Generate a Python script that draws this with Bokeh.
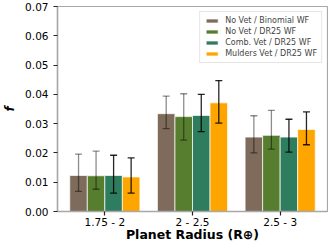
from bokeh.plotting import figure
from bokeh.models import (ColumnDataSource, Range1d, FixedTicker, PrintfTickFormatter,
                          Whisker, TeeHead, Legend, LegendItem)
from bokeh.embed import file_html
from bokeh.resources import INLINE

# ---- data ----
categories = ["1.75 - 2", "2 - 2.5", "2.5 - 3"]
series_names = ["No Vet / Binomial WF", "No Vet / DR25 WF",
                "Comb. Vet / DR25 WF", "Mulders Vet / DR25 WF"]
no_vet_binomial = [0.0123, 0.0334, 0.0254]
no_vet_binomial_lo = [0.0069, 0.0283, 0.0200]
no_vet_binomial_hi = [0.0196, 0.0394, 0.0327]
no_vet_dr25 = [0.0122, 0.0324, 0.0260]
no_vet_dr25_lo = [0.0076, 0.0244, 0.0213]
no_vet_dr25_hi = [0.0206, 0.0402, 0.0345]
comb_vet_dr25 = [0.0123, 0.0328, 0.0254]
comb_vet_dr25_lo = [0.0063, 0.0273, 0.0203]
comb_vet_dr25_hi = [0.0192, 0.0400, 0.0315]
mulders_vet_dr25 = [0.0118, 0.0371, 0.0280]
mulders_vet_dr25_lo = [0.0063, 0.0302, 0.0228]
mulders_vet_dr25_hi = [0.0183, 0.0447, 0.0340]
y_ticks = [0.0, 0.01, 0.02, 0.03, 0.04, 0.05, 0.06, 0.07]

values = [no_vet_binomial, no_vet_dr25, comb_vet_dr25, mulders_vet_dr25]
lows = [no_vet_binomial_lo, no_vet_dr25_lo, comb_vet_dr25_lo, mulders_vet_dr25_lo]
highs = [no_vet_binomial_hi, no_vet_dr25_hi, comb_vet_dr25_hi, mulders_vet_dr25_hi]
colors = ["#7e6b5c", "#577e2e", "#2e7d5f", "#ffa500"]
err_alpha = [0.45, 0.45, 0.85, 0.85]
offsets = [-0.3, -0.1, 0.1, 0.3]
bar_w = 0.2

p = figure(width=328, height=244, output_backend="svg", toolbar_location=None,
           x_range=Range1d(-0.54, 2.54), y_range=Range1d(0, 0.07),
           min_border_left=48, min_border_right=1, min_border_top=6, min_border_bottom=0)
p.grid.visible = False
p.outline_line_color = "#a8a8a8"
p.outline_line_width = 1.2
p.background_fill_color = "white"
p.border_fill_color = "white"

items = []
for i in range(4):
    xs = [j + offsets[i] for j in range(len(categories))]
    src = ColumnDataSource(dict(x=xs, top=values[i], lo=lows[i], hi=highs[i]))
    r = p.vbar(x="x", top="top", width=bar_w, source=src, fill_color=colors[i],
               line_color="white", line_width=1, line_alpha=0.7)
    items.append(LegendItem(label=series_names[i], renderers=[r]))
    w = Whisker(base="x", lower="lo", upper="hi", source=src, level="overlay",
                line_color="black", line_alpha=err_alpha[i], line_width=1.3,
                upper_head=TeeHead(size=7, line_color="black", line_alpha=err_alpha[i], line_width=1.3),
                lower_head=TeeHead(size=7, line_color="black", line_alpha=err_alpha[i], line_width=1.3))
    p.add_layout(w)

legend = Legend(items=items, location="top_right", margin=5, padding=4,
                label_text_font="DejaVu Sans", label_text_font_size="8px",
                label_height=9, glyph_height=5, glyph_width=15, label_standoff=6,
                spacing=2, border_line_color="#cccccc", border_line_width=1,
                background_fill_alpha=0.8)
p.add_layout(legend)

# axes
p.xaxis.ticker = FixedTicker(ticks=list(range(len(categories))))
p.xaxis.major_label_overrides = {j: c for j, c in enumerate(categories)}
p.yaxis.ticker = FixedTicker(ticks=y_ticks)
p.yaxis.formatter = PrintfTickFormatter(format="%.2f")
for ax in (p.xaxis, p.yaxis):
    ax.axis_line_color = "#a8a8a8"
    ax.axis_line_width = 1.5
    ax.major_tick_line_color = "#222222"
    ax.major_tick_line_width = 1.2
    ax.major_tick_out = 4
    ax.major_tick_in = 0
    ax.minor_tick_line_color = None
    ax.major_label_text_font = "DejaVu Sans"
    ax.major_label_text_font_size = "10.5px"
    ax.major_label_text_color = "black"
    ax.axis_label_text_font = "DejaVu Sans"
    ax.axis_label_text_color = "black"
    ax.axis_label_text_font_style = "bold"

p.xaxis.axis_label = "Planet Radius (R⊕)"
p.xaxis.axis_label_text_font_size = "12.5px"
p.xaxis.major_label_standoff = 0
p.xaxis.axis_label_standoff = -4
p.yaxis.axis_label = "f"
p.yaxis.axis_label_text_font_style = "bold italic"
p.yaxis.axis_label_text_font_size = "12px"
p.yaxis.major_label_standoff = 5
p.yaxis.axis_label_standoff = 5

open("out.html", "w").write(file_html(p, INLINE))
